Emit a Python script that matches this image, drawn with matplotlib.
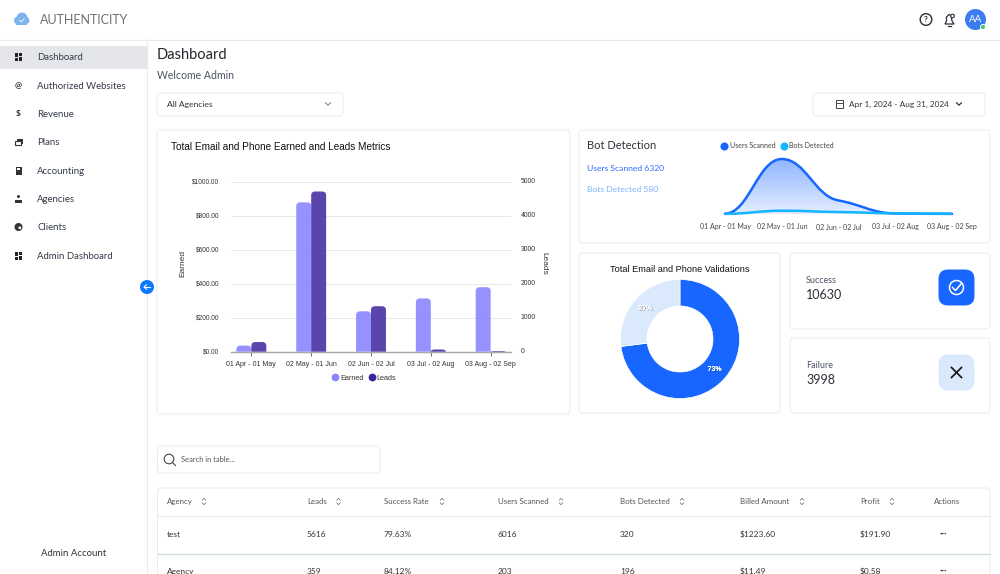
"""Rebuild of the Authenticity admin dashboard screenshot."""

import numpy as np
import matplotlib
matplotlib.use("Agg")
import matplotlib.pyplot as plt
import matplotlib.patheffects as pe
from matplotlib.lines import Line2D
from matplotlib.patches import Circle, FancyBboxPatch, PathPatch, Polygon, Rectangle
from matplotlib.path import Path
from matplotlib.transforms import ScaledTranslation

W, H = 1000, 574

# chart data
periods = ["01 Apr - 01 May", "02 May - 01 Jun", "02 Jun - 02 Jul", "03 Jul - 02 Aug", "03 Aug - 02 Sep"]
earned = [36, 880, 238, 314, 380]
leads = [285, 4720, 1340, 65, 20]
earned_ticks = [0, 200, 400, 600, 800, 1000]
leads_ticks = [0, 1000, 2000, 3000, 4000, 5000]

users_scanned = [30, 5000, 1230, 50, 10]
bots_detected = [10, 300, 180, 60, 30]

validation_share = [73, 27]

# page text
menu_items = ["Dashboard", "Authorized Websites", "Revenue", "Plans", "Accounting", "Agencies", "Clients", "Admin Dashboard"]
menu_y = [57, 86, 114, 142, 171, 199, 227, 256]

table_headers = ["Agency", "Leads", "Success Rate", "Users Scanned", "Bots Detected", "Billed Amount", "Profit", "Actions"]
table_rows = [
    ["test", "5616", "79.63%", "6016", "320", "$1223.60", "$191.90"],
    ["Agency", "359", "84.12%", "203", "196", "$11.49", "$0.58"],
]
table_x = [167, 307, 384, 498, 620, 740, 860, 934]
table_row_y = [534, 571]

UI = "Lato"
CHART = "Liberation Sans"
BLUE = "#1766ff"
DARK = "#2b2f38"
MUTED = "#4d5566"
EDGE = "#e9ebee"


def px_axes(left, top, right, bottom, **kwargs):
    ax = fig.add_axes([left / W, 1 - bottom / H, (right - left) / W, (bottom - top) / H], **kwargs)
    ax.patch.set_alpha(0)
    return ax


def card(x0, y0, x1, y1, radius=3, face="white", edge=EDGE, lw=0.7):
    box = FancyBboxPatch((x0 + radius, y0 + radius), x1 - x0 - 2 * radius, y1 - y0 - 2 * radius,
                         boxstyle=f"round,pad={radius},rounding_size={radius}",
                         fc=face, ec=edge, lw=lw)
    bg.add_patch(box)


def label(x, y, s, size=7, color=DARK, ha="left", family=UI, **kwargs):
    # y is the middle of the capitals, so descenders do not shift a row of text
    baseline = y + 0.36 * size * 100 / 72
    return bg.text(x, baseline, s, fontsize=size, color=color, ha=ha, va="baseline", family=family, **kwargs)


def chevron(x, y, s=3, color="#555", lw=0.8):
    bg.plot([x - s, x, x + s], [y - s / 2, y + s / 2, y - s / 2], color=color, lw=lw)


def sort_arrows(x, y):
    bg.plot([x - 1.8, x, x + 1.8], [y - 1.3, y - 3.2, y - 1.3], color="#666", lw=0.5)
    bg.plot([x - 1.8, x, x + 1.8], [y + 1.3, y + 3.2, y + 1.3], color="#666", lw=0.5)


def rounded_bar(ax, left, width, height, color, alpha, rx, ry):
    ry = min(ry, height)
    verts = [(left, 0), (left, height - ry), (left, height), (left + rx, height),
             (left + width - rx, height), (left + width, height), (left + width, height - ry),
             (left + width, 0), (left, 0)]
    codes = [Path.MOVETO, Path.LINETO, Path.CURVE3, Path.CURVE3, Path.LINETO,
             Path.CURVE3, Path.CURVE3, Path.LINETO, Path.CLOSEPOLY]
    ax.add_patch(PathPatch(Path(verts, codes), fc=color, ec="none", alpha=alpha, zorder=3))


def smooth_path(xs, ys, handle=0.42, ease=0.5):
    # monotone cubic through the points, written as bezier segments
    xs = np.asarray(xs, float)
    ys = np.asarray(ys, float)
    slopes = np.diff(ys) / np.diff(xs)
    tangents = np.zeros(len(xs))
    for i in range(1, len(xs) - 1):
        if slopes[i - 1] * slopes[i] > 0:
            tangents[i] = ease * 2 * slopes[i - 1] * slopes[i] / (slopes[i - 1] + slopes[i])
    verts = [(xs[0], ys[0])]
    codes = [Path.MOVETO]
    for i in range(len(xs) - 1):
        dx = (xs[i + 1] - xs[i]) * handle
        verts += [(xs[i] + dx, ys[i] + tangents[i] * dx),
                  (xs[i + 1] - dx, ys[i + 1] - tangents[i + 1] * dx),
                  (xs[i + 1], ys[i + 1])]
        codes += [Path.CURVE4] * 3
    return verts, codes


fig = plt.figure(figsize=(W / 100, H / 100), dpi=100, facecolor="white")
bg = fig.add_axes([0, 0, 1, 1])
bg.set_xlim(0, W)
bg.set_ylim(H, 0)
bg.axis("off")

# header and sidebar
bg.plot([0, W], [39.5, 39.5], color=EDGE, lw=0.8)
bg.plot([147.2, 147.2], [39, H], color=EDGE, lw=0.8)
bg.add_patch(Rectangle((0, 46), 147, 23, fc="#e4e6ea", ec="none"))

# logo cloud
for cx, cy, r in [(18, 20.5, 4), (22, 18, 5.5), (26, 20.5, 3.5)]:
    bg.add_patch(Circle((cx, cy), r, fc="#7db6ee", ec="none"))
bg.add_patch(Rectangle((16, 20), 11, 4.5, fc="#7db6ee", ec="none"))
bg.plot([19.8, 21.3, 24], [20.3, 21.8, 19], color="white", lw=0.6)
label(40, 19.5, "AUTHENTICITY", size=9, color="#6f7277")

# top right icons
bg.add_patch(Circle((926, 19.5), 5.8, fc="none", ec=DARK, lw=1))
bg.text(926, 19.7, "?", fontsize=6, color=DARK, ha="center", va="center", family=UI, weight="bold")
bell = [(945, 24), (946.5, 21), (946.5, 17), (949, 14.5), (951, 15.5), (952, 21), (954, 24)]
bg.add_patch(Polygon(bell, closed=True, fc="none", ec=DARK, lw=0.9))
bg.plot([948, 951], [26, 26], color=DARK, lw=0.9)
bg.add_patch(Circle((952.5, 16), 1.8, fc="white", ec=DARK, lw=0.8))
bg.add_patch(Circle((975.5, 19.5), 10.5, fc="#3b7df0", ec="none"))
bg.text(975.5, 19.7, "AA", fontsize=7, color="white", ha="center", va="center", family=UI)
bg.add_patch(Circle((983, 27), 2.5, fc="#35c96b", ec="white", lw=0.7))

# sidebar menu
for name, y in zip(menu_items, menu_y):
    label(37, y, name, size=6.9, color="#333a48")


def grid_icon(y):
    for dx, dy, w, h in [(0, 0, 3, 4), (4, 0, 3, 2.5), (0, 5, 3, 2.5), (4, 3.5, 3, 4)]:
        bg.add_patch(Rectangle((15 + dx, y - 3.7 + dy), w, h, fc="#222", ec="none"))


grid_icon(menu_y[0])
grid_icon(menu_y[7])
bg.text(18.5, menu_y[1], "@", fontsize=6, color="#333", ha="center", va="center", family=UI, weight="bold")
bg.text(18.5, menu_y[2], "$", fontsize=6, color="#333", ha="center", va="center", family=UI, weight="bold")
bg.add_patch(Rectangle((17, menu_y[3] - 3.5), 6, 5, fc="#333", ec="none"))
bg.add_patch(Rectangle((14.5, menu_y[3] - 1), 6, 4, fc="white", ec="#333", lw=0.8))
bg.add_patch(Rectangle((15.5, menu_y[4] - 4), 6, 8, fc="#333", ec="none"))
bg.add_patch(Rectangle((16.7, menu_y[4] - 3), 3.6, 1.6, fc="white", ec="none"))
bg.add_patch(Circle((18.5, menu_y[5] - 2.5), 1.5, fc="#333", ec="none"))
bg.add_patch(Rectangle((15, menu_y[5] + 1), 7, 2.5, fc="#333", ec="none"))
bg.add_patch(Circle((18.5, menu_y[6]), 4, fc="#333", ec="none"))
bg.add_patch(Circle((19.8, menu_y[6] + 0.8), 1.4, fc="white", ec="none"))

label(74, 553, "Admin Account", size=6.9, color="#333", ha="center")
bg.add_patch(Circle((147, 287), 7, fc="#0a78ff", ec="none", zorder=5))
bg.plot([144, 150], [287, 287], color="white", lw=0.8, zorder=6)
bg.plot([146.5, 144, 146.5], [284.8, 287, 289.2], color="white", lw=0.8, zorder=6)

# page heading and filters
label(157, 53.5, "Dashboard", size=10.5, color="#23262d")
label(157, 75, "Welcome Admin", size=7.6, color=MUTED)
card(157, 93, 343, 116, radius=3)
label(167, 104, "All Agencies", size=6.1, color="#333")
chevron(328, 104, s=2.6, color="#888")
card(813, 93, 985, 116, radius=3)
bg.add_patch(Rectangle((835.5, 100), 7, 7.5, fc="none", ec="#444", lw=0.7))
bg.plot([835.5, 842.5], [102.5, 102.5], color="#444", lw=0.7)
label(849, 104, "Apr 1, 2024 - Aug 31, 2024", size=5.95, color="#333")
chevron(959, 104, s=2.4, color="#333", lw=0.9)

# cards
card(157, 130, 570, 414)
card(579, 130, 990, 243)
card(579, 253, 780, 413)
card(790, 253, 990, 329)
card(790, 338, 990, 413)

# earned / leads bars
ax = px_axes(231, 182, 511, 351.7)
ax2 = ax.twinx()
ax2.patch.set_alpha(0)
ax.set_xlim(-0.34, 4.34)
ax.set_ylim(0, 1000)
ax2.set_ylim(0, 5000)
bar_w = 0.25
rx = 4 * 4.68 / 280
for i, (e, l) in enumerate(zip(earned, leads)):
    rounded_bar(ax, i - bar_w, bar_w, e, "#8a86ff", 0.9, rx, 4 * 1000 / 169.7)
    rounded_bar(ax2, i, bar_w, l, "#3d249f", 0.85, rx, 4 * 5000 / 169.7)
ax.set_xticks(range(len(periods)))
ax.set_xticklabels(periods, fontsize=5, family=CHART, color="#333")
ax.set_yticks(earned_ticks)
ax.set_yticklabels([f"${v:.2f}" for v in earned_ticks], fontsize=4.7, family=CHART, color="#333")
ax2.set_yticks(leads_ticks)
ax2.set_yticklabels([str(v) for v in leads_ticks], fontsize=4.9, family=CHART, color="#333")
ax.tick_params(axis="x", length=3, width=0.6, color="#555", pad=3.6)
ax.tick_params(axis="y", length=0, pad=8.4)
ax2.tick_params(axis="y", length=0, pad=7)
# the screenshot's tick labels sit a little above their grid lines
nudge = ScaledTranslation(0, 1.2 / 100, fig.dpi_scale_trans)
for t in ax.get_yticklabels() + ax2.get_yticklabels():
    t.set_transform(t.get_transform() + nudge)
ax.grid(axis="y", color="#e9e9ec", lw=0.7)
ax.set_axisbelow(True)
for a in (ax, ax2):
    for side, spine in a.spines.items():
        spine.set_visible(side == "bottom")
    a.spines["bottom"].set_color("#a8a8a8")
    a.spines["bottom"].set_linewidth(0.9)
bg.text(183, 263, "Earned", fontsize=6, family=CHART, ha="center", va="center", rotation=90, color="#333")
bg.text(544, 263, "Leads", fontsize=6, family=CHART, ha="center", va="center", rotation=270, color="#333")
label(171, 146, "Total Email and Phone Earned and Leads Metrics", size=7.2, family=CHART, color="#111")
bar_handles = [Line2D([], [], ls="none", marker="o", ms=4.6, mfc=c, mec=c, label=t)
               for c, t in [("#8a86ff", "Earned"), ("#3d249f", "Leads")]]
fig.legend(handles=bar_handles, loc="center", bbox_to_anchor=(364 / W, 1 - 378.5 / H), ncol=2, frameon=False,
           prop={"family": CHART, "size": 5.2}, handlelength=0.9, handletextpad=0.25, columnspacing=0.7,
           labelcolor="#333")

# bot detection area chart
label(587, 145, "Bot Detection", size=8, color="#2f333b")
label(587, 168, "Users Scanned 6320", size=6.1, color="#2f6bff")
label(587, 189, "Bots Detected 580", size=6.1, color="#7fb2ff")
ax3 = px_axes(725, 155, 952, 214)
ax3.axis("off")
xs = range(len(periods))
verts, codes = smooth_path(xs, users_scanned)
area_verts = verts + [(xs[-1], 0), (0, 0), (0, 0)]
area_codes = codes + [Path.LINETO, Path.LINETO, Path.CLOSEPOLY]
area = PathPatch(Path(area_verts, area_codes), fc="none", ec="none")
ax3.add_patch(area)
fade = np.zeros((64, 2, 4))
fade[..., 0], fade[..., 1], fade[..., 2] = 0x17 / 255, 0x66 / 255, 1.0
fade[..., 3] = np.linspace(0.48, 0.12, 64)[:, None]
img = ax3.imshow(fade, extent=[0, xs[-1], 0, max(users_scanned)], aspect="auto", zorder=1)
img.set_clip_path(area)
ax3.add_patch(PathPatch(Path(verts, codes), fc="none", ec=BLUE, lw=1.8, zorder=2, clip_on=False, capstyle="round"))
ax3.set_xlim(0, len(periods) - 1)
ax3.set_ylim(0, 59 / 55 * max(users_scanned))
verts, codes = smooth_path(xs, bots_detected)
ax3.add_patch(PathPatch(Path(verts, codes), fc="none", ec="#12b5ff", lw=1.8, zorder=3, clip_on=False))
for x, t in zip([725, 782, 839, 895, 952], periods):
    label(x, 227, t, size=5.0, color="#444", ha="center")
bot_handles = [Line2D([], [], ls="none", marker="o", ms=4.8, mfc=c, mec=c, label=t)
               for c, t in [(BLUE, "Users Scanned"), ("#12b5ff", "Bots Detected")]]
fig.legend(handles=bot_handles, loc="center", bbox_to_anchor=(777.5 / W, 1 - 146 / H), ncol=2, frameon=False,
           prop={"family": UI, "size": 5.0}, handlelength=0.9, handletextpad=0.4, columnspacing=0.7,
           labelcolor="#444")

# validations donut
label(679.5, 268.5, "Total Email and Phone Validations", size=6.6, family=CHART, ha="center", color="#111")
ax4 = px_axes(620.5, 279.5, 739.5, 398.5)
_, _, pcts = ax4.pie(validation_share, colors=[BLUE, "#dbe9fc"], startangle=90, counterclock=False,
                     radius=1, wedgeprops={"width": 0.445, "ec": "white", "lw": 0.5},
                     autopct="%d%%", pctdistance=0.775)
ax4.set_xlim(-1, 1)
ax4.set_ylim(-1, 1)
for t, shade in zip(pcts, ["#103a8c", "#8a8a8a"]):
    t.set_color("white")
    t.set(fontsize=5, weight="bold", family=CHART)
    t.set_path_effects([pe.withSimplePatchShadow(offset=(0.5, -0.5), shadow_rgbFace=shade, alpha=0.9), pe.Normal()])

# success / failure tiles
label(806, 279.5, "Success", size=6.5, color=MUTED)
label(806, 294.5, "10630", size=9, color="#2b2f38")
card(939, 270, 974, 305, radius=9, face=BLUE, edge=BLUE)
bg.add_patch(Circle((956.5, 287.5), 7, fc="none", ec="white", lw=1.1))
bg.plot([952.5, 955.5, 961], [287.5, 290.5, 284], color="white", lw=1.1)
label(806, 364.5, "Failure", size=6.5, color=MUTED)
label(806, 379.5, "3998", size=9, color="#2b2f38")
card(939, 355, 974, 390, radius=9, face="#dbe9fc", edge="#dbe9fc")
bg.plot([951.5, 961.5], [367.5, 377.5], color="#111", lw=1.2)
bg.plot([951.5, 961.5], [377.5, 367.5], color="#111", lw=1.2)

# search box and table
card(157.5, 446, 380, 473, radius=3)
bg.add_patch(Circle((169, 459), 4.8, fc="none", ec="#444", lw=0.8))
bg.plot([172.5, 175.5], [462.5, 465.5], color="#444", lw=0.8)
label(181, 459.5, "Search in table...", size=5.4, color="#555")

card(157.5, 488, 990, 590, radius=3)
for x, t in zip(table_x, table_headers):
    label(x, 501.5, t, size=5.7, color="#555")
arrow_x = [204, 338.5, 442, 561, 682, 802, 892]
for x in arrow_x:
    sort_arrows(x, 501.5)
bg.plot([158, 990], [515.5, 515.5], color="#e3e9ed", lw=0.8)
bg.plot([158, 990], [553.5, 553.5], color="#cfdbe3", lw=0.9)
for row, y in zip(table_rows, table_row_y):
    for x, t in zip(table_x, row):
        label(x, y, t, size=6.0, color="#333")
    bg.text(943, y, "•••", fontsize=3.2, color="#333", ha="center", va="center", family=UI)

fig.savefig("out.png", dpi=100, facecolor="white")
plt.close(fig)
